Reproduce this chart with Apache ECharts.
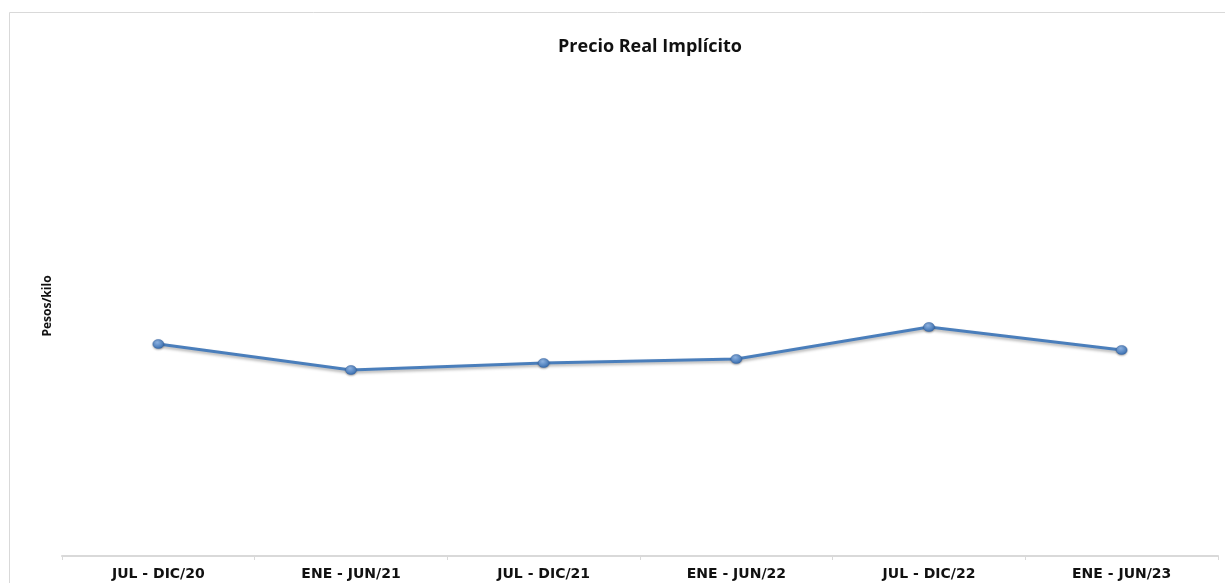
<!DOCTYPE html>
<html>
<head>
<meta charset="utf-8">
<script src="https://cdn.jsdelivr.net/npm/echarts@6/dist/echarts.min.js"></script>
<style>
    html, body { margin: 0; padding: 0; background: #fff; }
    #chart { width: 1225px; height: 583px; }
</style>
</head>
<body>
<div id="chart"></div>
<script>
var categories = ['JUL - DIC/20', 'ENE - JUN/21', 'JUL - DIC/21', 'ENE - JUN/22', 'JUL - DIC/22', 'ENE - JUN/23'];
var precioReal = [42.4, 37.2, 38.6, 39.4, 45.8, 41.2];

(function () {
    var myChart = echarts.init(document.getElementById('chart'));
    var option = {
        backgroundColor: '#ffffff',
        animation: false,
        graphic: [
            {
                // marco del grafico
                type: 'rect',
                shape: { x: 9.5, y: 12.5, width: 1240, height: 600 },
                style: { fill: 'none', stroke: '#d9d9d9', lineWidth: 1 },
                silent: true
            }
        ],
        title: {
            text: 'Precio Real Implícito',
            left: 645,
            top: 33,
            textAlign: 'center',
            textStyle: {
                fontFamily: 'Open Sans',
                fontWeight: 'bold',
                fontSize: 18,
                color: '#111111'
            }
        },
        grid: {
            left: 62,
            right: 7,
            top: 56,
            bottom: 27,
            containLabel: false
        },
        xAxis: {
            type: 'category',
            data: categories,
            boundaryGap: true,
            axisLine: { lineStyle: { color: '#d9d9d9', width: 2 } },
            axisTick: { show: true, length: 4, lineStyle: { color: '#d9d9d9', width: 1 } },
            axisLabel: {
                margin: 11,
                fontFamily: 'DejaVu Sans',
                fontWeight: 'bold',
                fontSize: 14,
                color: '#111111'
            }
        },
        yAxis: {
            type: 'value',
            min: 0,
            max: 100,
            name: 'Pesos/kilo',
            nameLocation: 'middle',
            nameGap: 8,
            nameRotate: 90,
            nameTextStyle: {
                fontFamily: 'Open Sans',
                fontWeight: 'bold',
                fontSize: 12,
                color: '#111111'
            },
            axisLine: { show: false },
            axisTick: { show: false },
            axisLabel: { show: false },
            splitLine: { show: false }
        },
        series: [
            {
                name: 'Precio Real Implícito',
                type: 'line',
                data: precioReal,
                symbol: 'circle',
                symbolSize: [11, 9],
                lineStyle: {
                    color: '#4a7ebb',
                    width: 3,
                    shadowColor: 'rgba(0,0,0,0.3)',
                    shadowBlur: 3,
                    shadowOffsetY: 2
                },
                itemStyle: {
                    color: new echarts.graphic.RadialGradient(0.4, 0.3, 0.7, [
                        { offset: 0, color: '#8fb4e3' },
                        { offset: 1, color: '#3a6fb0' }
                    ]),
                    borderColor: '#3867a6',
                    borderWidth: 0.5,
                    shadowColor: 'rgba(0,0,0,0.3)',
                    shadowBlur: 2,
                    shadowOffsetY: 1
                }
            }
        ]
    };
    myChart.setOption(option);
})();
</script>
</body>
</html>
